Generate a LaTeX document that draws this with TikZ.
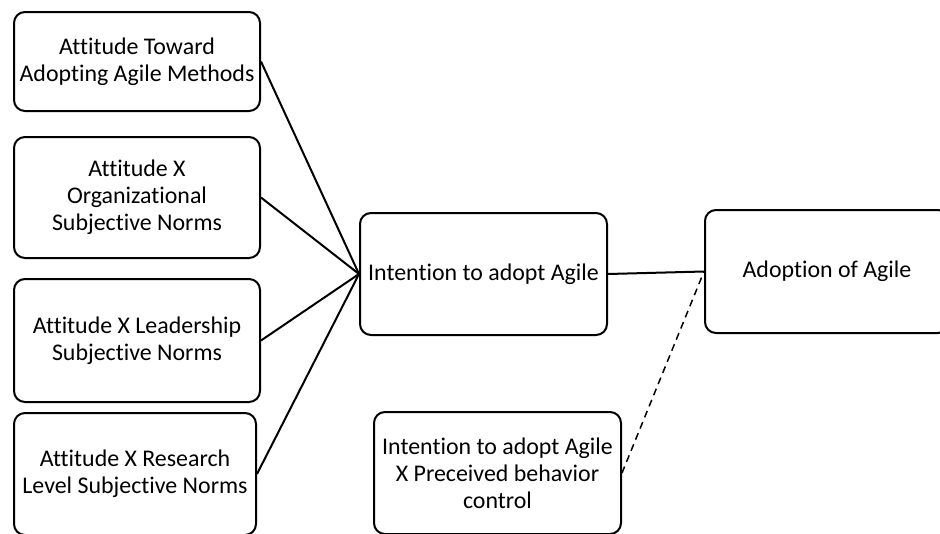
\documentclass[tikz,border=0pt]{standalone}
\usepackage{fontspec}
\setmainfont{Carlito}[Ligatures={NoCommon}]
\begin{document}
\begin{tikzpicture}[x=1pt,y=-1pt,
  box/.style={draw=black,line width=2pt,rounded corners=11pt,align=center,
    inner sep=0pt,font=\fontsize{23.9}{27}\selectfont},
  link/.style={draw=black,line width=2pt}]
\useasboundingbox (0,0) rectangle (940,533);
\node[box,minimum width=246pt,minimum height=99pt] (a1) at (137,61.5) {Attitude Toward\\Adopting Agile Methods};
\node[box,minimum width=246pt,minimum height=121pt] (a2) at (137,197.5) {Attitude X\\Organizational\\Subjective Norms};
\node[box,minimum width=246pt,minimum height=123pt] (a3) at (137,340.5) {Attitude X Leadership\\Subjective Norms};
\node[box,minimum width=242pt,minimum height=122pt] (a4) at (135,474) {Attitude X Research\\Level Subjective Norms};
\node[box,minimum width=247pt,minimum height=122pt] (mid) at (483.5,274) {Intention to adopt Agile};
\node[box,minimum width=244pt,minimum height=123pt] (adopt) at (827,271.5) {Adoption of Agile};
\node[box,minimum width=247pt,minimum height=122pt] (pbc) at (497.5,473) {Intention to adopt Agile\\X Preceived behavior\\control};
\draw[link] (a1.east) -- (mid.west);
\draw[link] (a2.east) -- (mid.west);
\draw[link] (a3.east) -- (mid.west);
\draw[link] (a4.east) -- (mid.west);
\draw[link] (mid.east) -- (adopt.west);
\draw[link,line width=1.5pt,dash pattern=on 7pt off 5pt] (pbc.east) -- (adopt.west);
\end{tikzpicture}
\end{document}
